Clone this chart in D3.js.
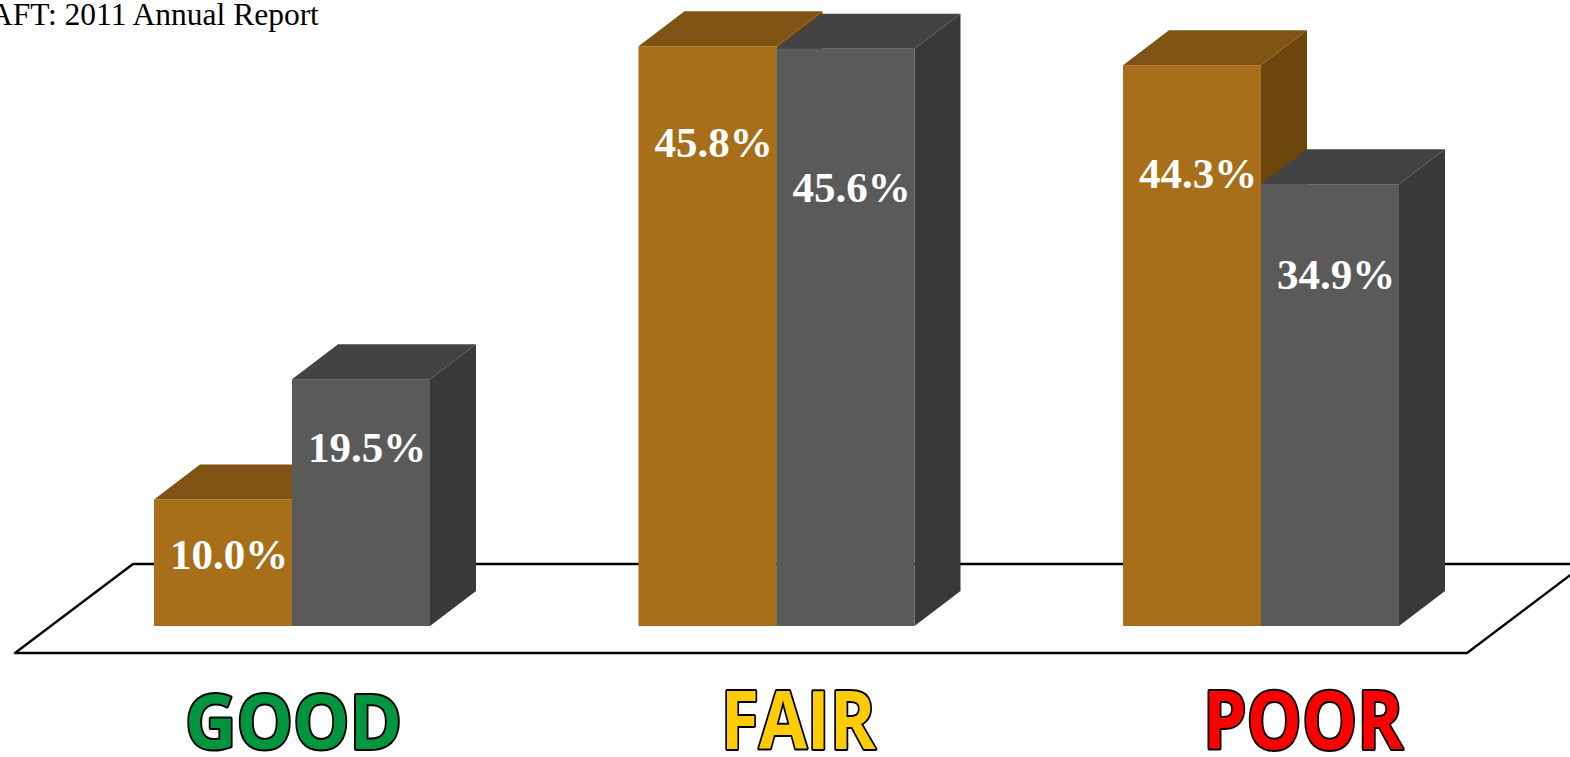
<!DOCTYPE html>
<html>
<head>
<meta charset="utf-8">
<script src="https://cdn.jsdelivr.net/npm/d3@7"></script>
<style>
  html, body { margin: 0; padding: 0; background: #fff; overflow: hidden; }
  svg { display: block; }
</style>
</head>
<body>
<div id="app"></div>
<script>
const W = 1570
const H = 757

// data
const categories = ['GOOD', 'FAIR', 'POOR']
const seriesNames = ['Series A', 'Series B']
const seriesA = [10.0, 45.8, 44.3]
const seriesB = [19.5, 45.6, 34.9]
const title = 'AFT: 2011 Annual Report'

const frontColors = ['#a86f1a', '#5a5a5a']
const topColors = ['#7f5314', '#434343']
const sideColors = ['#6d460e', '#393939']
const catColors = ['#00953f', '#ffcc00', '#ff0000']
const catWidths = [217, 155, 200]
const catSizes = [76, 80, 80]
// label baseline offset below each bar top, per category / series
const labelDy = [[70, 83], [111, 153], [123, 105]]

const DX = 46, DY = 35

const x0 = d3.scalePoint().domain(categories).range([292, 1261])
const x1 = d3.scaleBand().domain(seriesNames).range([-138, 138])
const y = d3.scaleLinear().domain([0, 50]).range([626, -7])
const xLabel = d3.scalePoint().domain(categories).range([293.5, 1303])

const rows = []
categories.forEach((c, i) => {
  [seriesA, seriesB].forEach((s, j) => {
    rows.push({ cat: c, ci: i, si: j, series: seriesNames[j], value: s[i] })
  })
})

const svg = d3.select('#app').append('svg')
  .attr('width', W)
  .attr('height', H)

svg.append('text')
  .attr('x', -10)
  .attr('y', 25)
  .attr('font-family', 'Liberation Serif')
  .attr('font-size', 31.5)
  .attr('fill', '#000')
  .text(title)

// floor
const fy = y(0) + 27
const fl = 15, fr = 1467
svg.append('polygon')
  .attr('points', [[fl, fy], [fr, fy], [fr + 118, fy - 89], [fl + 118, fy - 89]].join(' '))
  .attr('fill', '#fff')
  .attr('stroke', '#000')
  .attr('stroke-width', 2.4)
  .attr('stroke-linejoin', 'round')

const bars = svg.selectAll('.bar')
  .data(rows)
  .enter().append('g')
  .attr('class', 'bar')

bars.each(function (d) {
  const g = d3.select(this)
  const xl = x0(d.cat) + x1(d.series)
  const xr = xl + x1.bandwidth()
  const yt = y(d.value)
  const yb = y(0)

  g.append('polygon')
    .attr('points', [[xr, yt], [xr + DX, yt - DY], [xr + DX, yb - DY], [xr, yb]].join(' '))
    .attr('fill', sideColors[d.si])
  g.append('polygon')
    .attr('points', [[xl, yt], [xl + DX, yt - DY], [xr + DX, yt - DY], [xr, yt]].join(' '))
    .attr('fill', topColors[d.si])
  g.append('rect')
    .attr('x', xl)
    .attr('y', yt)
    .attr('width', xr - xl)
    .attr('height', yb - yt)
    .attr('fill', frontColors[d.si])
})

bars.append('text')
  .attr('x', d => x0(d.cat) + x1(d.series) + x1.bandwidth() / 2 + 6)
  .attr('y', d => y(d.value) + labelDy[d.ci][d.si])
  .attr('text-anchor', 'middle')
  .attr('font-family', 'Liberation Serif')
  .attr('font-weight', 'bold')
  .attr('font-size', 43)
  .attr('fill', '#fff')
  .text(d => d.value.toFixed(1) + '%')

svg.selectAll('.cat')
  .data(categories)
  .enter().append('text')
  .attr('class', 'cat')
  .attr('x', d => xLabel(d))
  .attr('y', 749)
  .attr('text-anchor', 'middle')
  .attr('font-family', 'Open Sans')
  .attr('font-weight', 'bold')
  .attr('font-size', (d, i) => catSizes[i])
  .attr('textLength', (d, i) => catWidths[i])
  .attr('lengthAdjust', 'spacingAndGlyphs')
  .attr('fill', (d, i) => catColors[i])
  .attr('stroke', '#000')
  .attr('stroke-width', 4)
  .attr('stroke-linejoin', 'round')
  .attr('paint-order', 'stroke')
  .text(d => d)
</script>
</body>
</html>
